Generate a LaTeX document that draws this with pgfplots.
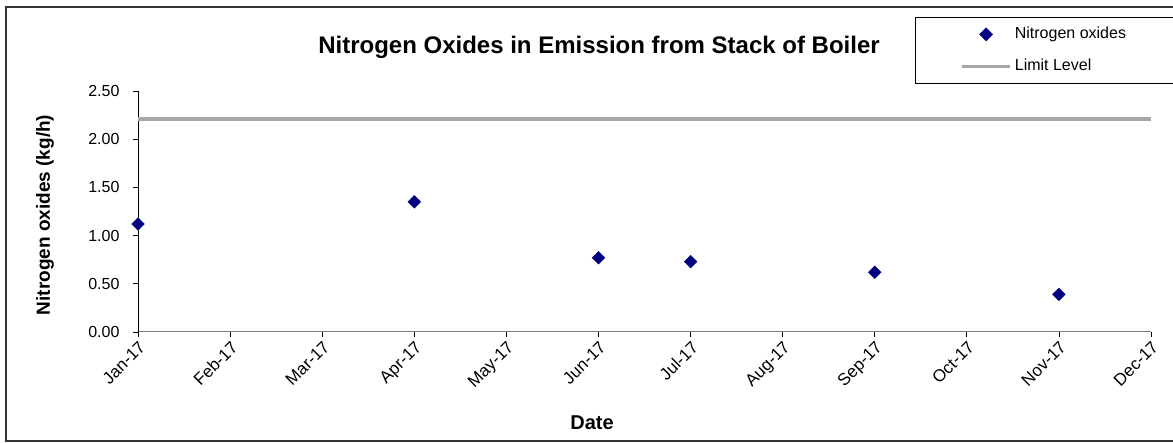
\documentclass[border=0pt]{standalone}
\usepackage{fontspec}
\setmainfont{Liberation Sans}
\usepackage{pgfplots}
\pgfplotsset{compat=1.18}
\definecolor{navyblue}{HTML}{000080}
\definecolor{limitgray}{HTML}{A6A6A6}
\definecolor{axisgray}{HTML}{808080}
\pgfplotsset{
  markleg/.style={legend image code/.code={\draw[##1] plot coordinates {(24pt,0pt)};}},
  lineleg/.style={legend image code/.code={\draw[##1] (0pt,0pt) -- (48pt,0pt);}},
}
\begin{document}
\begin{tikzpicture}[x=1pt,y=1pt]
\useasboundingbox (0,0) rectangle (1173,443);
\begin{scope}
\clip (0,0) rectangle (1173,443);
\draw[line width=1.3pt, black!80] (6,2) rectangle (1190,436);
\end{scope}
\node[font=\fontsize{24}{28}\selectfont\bfseries] at (599,396) {Nitrogen Oxides in Emission from Stack of Boiler};
\node[font=\fontsize{19}{23}\selectfont\bfseries, rotate=90] at (45,228) {Nitrogen oxides (kg/h)};
\node[font=\fontsize{20}{24}\selectfont\bfseries] at (592,20) {Date};
\begin{axis}[
  at={(138pt,111pt)}, anchor=south west,
  scale only axis, width=1013pt, height=241pt,
  xmin=0, xmax=11, ymin=0, ymax=2.5,
  axis lines*=left,
  x axis line style={axisgray, line width=1pt},
  y axis line style={black, line width=1pt},
  tick align=outside,
  major tick length=5pt,
  tick style={black, line width=0.8pt},
  xtick={0,1,2,3,4,5,6,7,8,9,10,11},
  xticklabels={Jan-17,Feb-17,Mar-17,Apr-17,May-17,Jun-17,Jul-17,Aug-17,Sep-17,Oct-17,Nov-17,Dec-17},
  ytick={0,0.5,1,1.5,2,2.5},
  yticklabel style={/pgf/number format/.cd, fixed, fixed zerofill, precision=2, assume math mode=true,
    /tikz/.cd, xshift=-10pt, font=\fontsize{16}{19}\selectfont},
  xticklabel style={rotate=45, anchor=north east, inner sep=2pt, font=\fontsize{17}{20}\selectfont},
  legend style={at={(0.767,1.307)}, anchor=north west, draw=black, line width=0.8pt,
    inner xsep=45pt, inner ysep=7pt, row sep=12pt,
    font=\fontsize{16}{19}\selectfont,
    nodes={inner sep=2pt, text height=12pt, text depth=4pt},
    /tikz/every odd column/.style={column sep=1pt}},
  legend cell align=left,
  clip=false,
]
\addplot[only marks, mark=square*, mark size=4.5pt, mark options={rotate=45, fill=navyblue, draw=navyblue}, markleg]
  coordinates {(0,1.12) (3,1.35) (5,0.77) (6,0.73) (8,0.62) (10,0.39)};
\addlegendentry{Nitrogen oxides}
\addplot[limitgray, line width=3.5pt, no marks, lineleg]
  coordinates {(0,2.21) (11,2.21)};
\addlegendentry{Limit Level}
\end{axis}
\end{tikzpicture}
\end{document}
